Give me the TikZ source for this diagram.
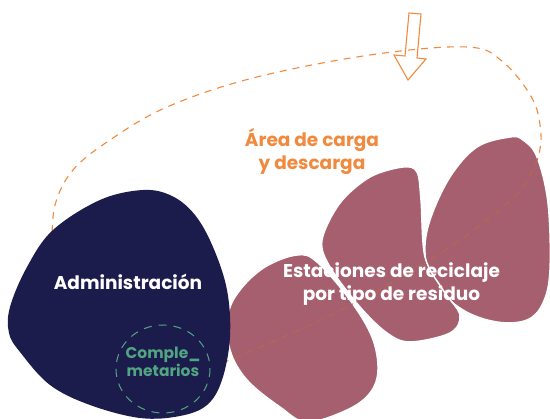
\documentclass[tikz,border=0pt]{standalone}
\usepackage{fontspec}
\setmainfont{Poppins}
\usepackage{tikz}
\definecolor{cnavy}{HTML}{1B1C4C}
\definecolor{crose}{HTML}{A65F6E}
\definecolor{corange}{HTML}{F08A3F}
\definecolor{cgreen}{HTML}{52A582}
\tikzset{
  blob/.style={draw=white, line width=1.5pt},
  zone/.style={font=\bfseries\fontsize{18.5}{23}\selectfont, align=center, text=white},
  route/.style={line width=1.1pt, dash pattern=on 7pt off 6pt},
  inflow/.style={draw=corange, line width=1.1pt, line join=miter}
}

\begin{document}
\begin{tikzpicture}[x=1pt, y=-1pt]
\useasboundingbox (0,0) rectangle (550,419);
% loading route, outside part
\draw[route, draw=corange] plot[smooth, tension=0.6] coordinates {(52,245) (55,205) (73,170) (110,140) (167,107) (253,78) (370,55) (467,47) (503,62) (533,100) (541,135) (538,158)};
\draw[inflow] (409,13) -- (421,14) -- (417,58) -- (426,59) -- (408,80) -- (394,55) -- (405,56) -- cycle;
% recycling stations
\fill[crose, blob] plot[smooth cycle, tension=0.6] coordinates {(510,137) (477,147) (450,177) (430,220) (425,253) (433,283) (463,310) (497,322) (527,320) (543,303) (550,270) (548,203) (537,157) (523,140)};
\fill[crose, blob] plot[smooth cycle, tension=0.55] coordinates {(403,167) (417,172) (421,200) (425,257) (443,290) (460,315) (450,333) (410,342) (387,333) (360,307) (330,267) (322,240) (340,203) (370,177)};
\fill[crose, blob] plot[smooth cycle, tension=0.6] coordinates {(297,255) (265,267) (240,290) (228,315) (230,350) (247,380) (280,407) (307,422) (347,410) (370,393) (378,370) (372,337) (350,300) (317,262)};
\draw[route, draw=corange!70!crose!85!black, line width=0.8pt] plot[smooth, tension=0.6] coordinates {(538,158) (523,187) (497,212) (450,247) (387,285) (317,322) (225,362)};
% administration
\fill[cnavy] plot[smooth cycle, tension=0.6] coordinates {(143,190) (100,200) (53,230) (27,267) (10,307) (9,333) (20,352) (50,385) (90,405) (140,418) (180,416) (207,405) (222,380) (230,337) (227,290) (213,247) (195,215) (172,196)};
\draw[cgreen, line width=1pt, dash pattern=on 8pt off 7pt] (163,369) ellipse [x radius=47, y radius=44];
\node[zone] (admin) at (128,282) {Administración};
\node[zone] (stations) at (391.5,284) {Estaciones de reciclaje\\por tipo de residuo};
\node[zone, text=corange] (loading) at (312,152) {Área de carga\\y descarga};
\node[zone, text=cgreen, font=\bfseries\fontsize{15.5}{18}\selectfont] (extra) at (163,362) {Comple\_\\metarios};
\end{tikzpicture}
\end{document}
